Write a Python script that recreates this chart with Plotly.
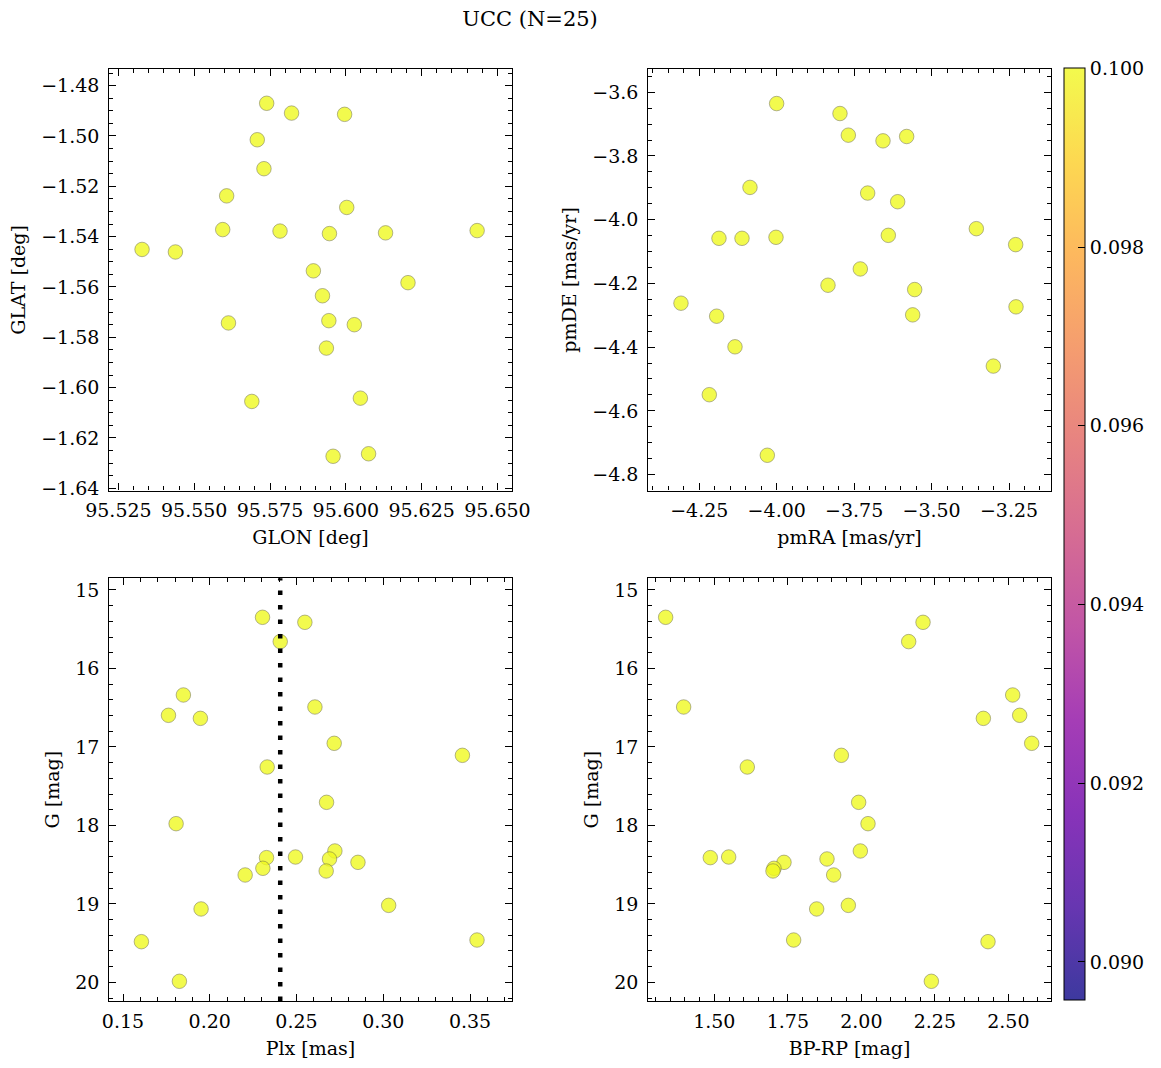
import numpy as np
import plotly.graph_objects as go

# ---------------- data ----------------
glon = [95.5739, 95.5821, 95.5996, 95.5708, 95.5730, 95.5607, 95.6003, 95.5594, 95.5783,
        95.5946, 95.6131, 95.6433, 95.5328, 95.5438, 95.5893, 95.6205, 95.5923, 95.5613,
        95.5944, 95.6028, 95.5936, 95.5690, 95.6048, 95.5958, 95.6075]
glat = [-1.4870, -1.4909, -1.4914, -1.5015, -1.5130, -1.5238, -1.5284, -1.5372, -1.5378,
        -1.5388, -1.5385, -1.5376, -1.5451, -1.5461, -1.5536, -1.5583, -1.5635, -1.5743,
        -1.5734, -1.5750, -1.5843, -1.6055, -1.6042, -1.6273, -1.6263]

pmra = [-4.0003, -3.7958, -3.7688, -3.6569, -3.5805, -4.0864, -3.7064, -3.6095, -3.3555,
        -4.1865, -4.1122, -4.0024, -3.6397, -3.2285, -3.7301, -3.8345, -3.5546, -4.3092,
        -3.2274, -4.1940, -3.5611, -4.1348, -3.3006, -4.2177, -4.0304]
pmde = [-3.6355, -3.6668, -3.7347, -3.7525, -3.7389, -3.8987, -3.9164, -3.9436, -4.0282,
        -4.0585, -4.0585, -4.0553, -4.0491, -4.0783, -4.1546, -4.2057, -4.2193, -4.2621,
        -4.2736, -4.3029, -4.2987, -4.3990, -4.4595, -4.5493, -4.7394]

gmag = [15.348, 15.412, 15.658, 16.338, 16.491, 16.597, 16.636, 16.954, 17.107, 17.256,
        17.706, 17.978, 18.326, 18.403, 18.411, 18.428, 18.471, 18.547, 18.581, 18.632,
        19.019, 19.065, 19.461, 19.482, 19.987]
plx = [0.2304, 0.2548, 0.2406, 0.1848, 0.2606, 0.1762, 0.1946, 0.2717, 0.3456, 0.2331,
       0.2673, 0.1806, 0.2721, 0.2494, 0.2327, 0.2690, 0.2854, 0.2306, 0.2671, 0.2204,
       0.3031, 0.1950, 0.3540, 0.1606, 0.1825]
bprp = [1.3345, 2.2098, 2.1610, 2.5147, 1.3957, 2.5385, 2.4150, 2.5794, 1.9320, 1.6122,
        1.9909, 2.0227, 1.9966, 1.5488, 1.4864, 1.8832, 1.7370, 1.7030, 1.6995, 1.9059,
        1.9558, 1.8481, 1.7698, 2.4308, 2.2381]

cval = [0.1, 0.1, 0.1, 0.1, 0.1, 0.1, 0.1, 0.1, 0.1, 0.1, 0.1, 0.1, 0.1,
        0.1, 0.1, 0.1, 0.1, 0.1, 0.1, 0.1, 0.1, 0.1, 0.1, 0.1, 0.1]

title_text = "UCC (N=25)"

# ---------------- styling ----------------
W, H = 1161, 1068
FONT = "DejaVu Serif"
FS = 19
CMIN, CMAX = 0.08957, 0.1
ALPHA = 0.8

plasma_hex = ["#0d0887", "#41049d", "#6a00a8", "#8f0da4", "#b12a90", "#cc4778",
              "#e16462", "#f2844b", "#fca636", "#fcce25", "#f0f921"]


def blend(h, a):
    r, g, b = int(h[1:3], 16), int(h[3:5], 16), int(h[5:7], 16)
    f = lambda c: round(c * a + 255 * (1 - a))
    return f"rgb({f(r)},{f(g)},{f(b)})"


n = len(plasma_hex)
plasma = [[i / (n - 1), h] for i, h in enumerate(plasma_hex)]
plasma_alpha = [[i / (n - 1), blend(h, ALPHA)] for i, h in enumerate(plasma_hex)]


def px_x(a, b):
    return [a / W, b / W]


def px_y(top, bottom):
    return [1 - bottom / H, 1 - top / H]


fig = go.Figure()

panels = [
    (glon, glat, "x", "y"),
    (pmra, pmde, "x2", "y2"),
    (plx, gmag, "x3", "y3"),
    (bprp, gmag, "x4", "y4"),
]
for xs, ys, xa, ya in panels:
    fig.add_trace(go.Scatter(
        x=xs, y=ys, mode="markers", xaxis=xa, yaxis=ya,
        marker=dict(color=cval, colorscale=plasma, cmin=CMIN, cmax=CMAX,
                    size=14.5, opacity=ALPHA,
                    line=dict(color="rgba(100,100,60,0.85)", width=0.7),
                    showscale=False),
        showlegend=False, hoverinfo="x+y"))

# colour bar (drawn with the same transparency as the markers)
fig.add_trace(go.Scatter(
    x=[None], y=[None], mode="markers", xaxis="x", yaxis="y", showlegend=False,
    hoverinfo="skip",
    marker=dict(color=[CMAX], colorscale=plasma_alpha, cmin=CMIN, cmax=CMAX, showscale=True,
                colorbar=dict(
                    x=1064 / W, xanchor="left", xref="paper",
                    y=1 - 68.3 / H, yanchor="top", yref="paper",
                    len=(1000 - 68.3) / H, lenmode="fraction",
                    thickness=21, thicknessmode="pixels",
                    outlinewidth=1, outlinecolor="black",
                    ticks="inside", ticklen=7, tickcolor="black", tickwidth=1,
                    tick0=0.09, dtick=0.002, tickformat=".3f",
                    tickfont=dict(family=FONT, size=FS, color="black"),
                    ypad=0, xpad=0,
                ))))

# median parallax line
plx_med = float(np.median(plx))
fig.add_shape(type="line", xref="x3", yref="y3 domain", x0=plx_med, x1=plx_med, y0=0, y1=1,
              line=dict(color="black", width=4.5, dash="4.5px,10px"), layer="above")


def axis(domain, rng, dtick, tick0, mdt, fmt, title, anchor, standoff_lbl):
    return dict(
        domain=domain, range=rng, anchor=anchor, automargin=False,
        dtick=dtick, tick0=tick0, tickformat=fmt,
        ticks="inside", ticklen=7, tickwidth=1, tickcolor="black",
        ticklabelstandoff=standoff_lbl,
        minor=dict(ticks="inside", ticklen=4, tickwidth=1, tickcolor="black",
                   dtick=mdt, tick0=tick0, showgrid=False),
        showline=True, linecolor="black", linewidth=1.2, mirror="allticks",
        showgrid=False, zeroline=False,
        tickfont=dict(family=FONT, size=FS, color="black"),
        title=dict(text=title, font=dict(family=FONT, size=FS, color="black"), standoff=10),
    )


xd1 = px_x(109.3, 511.7)
xd2 = px_x(648.3, 1050.7)
yd1 = px_y(69.3, 490.5)
yd2 = px_y(578.3, 1001)

fig.update_layout(
    template="none",
    width=W, height=H,
    margin=dict(l=0, r=0, t=0, b=0, autoexpand=False),
    paper_bgcolor="white", plot_bgcolor="white",
    font=dict(family=FONT, size=FS, color="black"),
    title=dict(text=title_text, x=530 / W, xanchor="center", xref="paper",
               y=1 - 19 / H, yanchor="middle", yref="paper",
               font=dict(family=FONT, size=21, color="black")),
    xaxis=axis(xd1, [95.5220, 95.6547], 0.025, 95.525, 0.005, ".3f", "GLON [deg]", "y", 3),
    yaxis=axis(yd1, [-1.6409, -1.4735], 0.02, -1.64, 0.005, ".2f", "GLAT [deg]", "x", 5),
    xaxis2=axis(xd2, [-4.4147, -3.1154], 0.25, -4.25, 0.05, ".2f", "pmRA [mas/yr]", "y2", 3),
    yaxis2=axis(yd1, [-4.850, -3.528], 0.2, -4.8, 0.05, ".1f", "pmDE [mas/yr]", "x2", 5),
    xaxis3=axis(xd1, [0.1421, 0.3740], 0.05, 0.15, 0.01, ".2f", "Plx [mas]", "y3", 3),
    yaxis3=axis(yd2, [20.238, 14.851], 1, 15, 0.2, "d", "G [mag]", "x3", 5),
    xaxis4=axis(xd2, [1.2755, 2.644], 0.25, 1.5, 0.05, ".2f", "BP-RP [mag]", "y4", 3),
    yaxis4=axis(yd2, [20.238, 14.851], 1, 15, 0.2, "d", "G [mag]", "x4", 5),
)

fig.write_html("out.html")
